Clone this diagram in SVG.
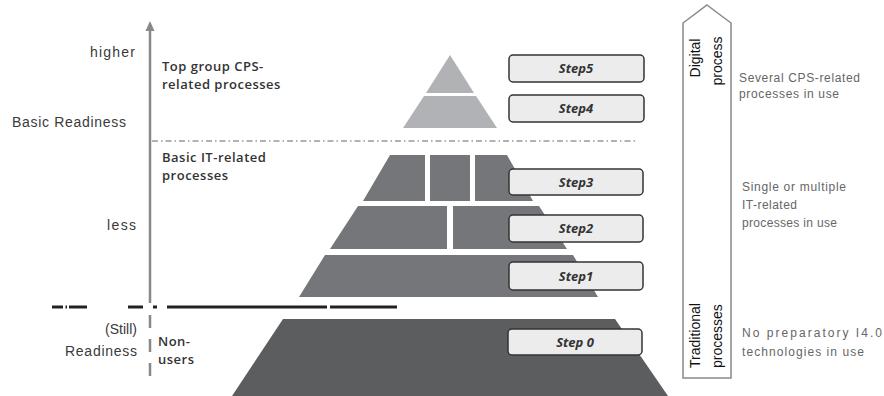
<svg xmlns="http://www.w3.org/2000/svg" width="884" height="396" viewBox="0 0 884 396">
<style>
.lbl{font-family:"Liberation Sans",Arial,sans-serif;font-size:14px;fill:#3a3a3a}
.grp{font-family:"Open Sans","Liberation Sans",sans-serif;font-size:13px;font-weight:600;fill:#333;letter-spacing:0.5px}
.step{fill:#ececec;stroke:#333;stroke-width:1.5}
.stxt{font-family:"Open Sans","Liberation Sans",sans-serif;font-size:13px;font-weight:700;font-style:italic;fill:#333;text-anchor:middle}
.rt{font-family:"Liberation Sans",Arial,sans-serif;font-size:12px;fill:#666}
.vt{font-family:"Liberation Sans",Arial,sans-serif;font-size:14px;fill:#111}
.top{fill:#b1b2b5}
.mid{fill:#757679}
.low{fill:#5c5d5f}
</style>
<rect width="884" height="396" fill="#fff"/>

<g id="axis">
<line x1="150" y1="28" x2="150" y2="303" stroke="#888" stroke-width="2.5"/>
<polygon points="150,21 145.5,31 154.5,31" fill="#888"/>
<line x1="150" y1="315" x2="150" y2="385" stroke="#888" stroke-width="2.5" stroke-dasharray="13,11"/>
</g>

<g id="separators">
<line x1="152" y1="141" x2="638" y2="141" stroke="#999" stroke-width="1.5" stroke-dasharray="6,3,1.5,3"/>
<g stroke="#222" stroke-width="3">
<line x1="52" y1="307" x2="63" y2="307"/>
<line x1="65.5" y1="307" x2="67" y2="307"/>
<line x1="69" y1="307" x2="87" y2="307"/>
<line x1="128" y1="307" x2="143" y2="307"/>
<line x1="153" y1="307" x2="157" y2="307"/>
<line x1="167" y1="307" x2="327" y2="307"/>
<line x1="330" y1="307" x2="397" y2="307"/>
</g>
</g>

<g id="labels-left">
<text class="lbl" x="135" y="57" text-anchor="end" textLength="45">higher</text>
<text class="lbl" x="12" y="127" textLength="114">Basic Readiness</text>
<text class="lbl" x="136" y="230" text-anchor="end" textLength="29">less</text>
<text class="lbl" x="137" y="334" text-anchor="end" font-size="13">(Still)</text>
<text class="lbl" x="65" y="356" textLength="72">Readiness</text>
</g>

<g id="group-labels">
<text class="grp" x="162" y="71">Top group CPS-</text>
<text class="grp" x="162" y="89">related processes</text>
<text class="grp" x="162" y="162">Basic IT-related</text>
<text class="grp" x="162" y="180">processes</text>
<text class="grp" x="158" y="346">Non-</text>
<text class="grp" x="158" y="364">users</text>
</g>

<g id="level5">
<polygon class="top" points="450,55 474,93 426,93"/>
</g>
<g id="level4">
<polygon class="top" points="424,96 476,96 497,128 403,128"/>
</g>
<g id="level3">
<polygon class="mid" points="390,155 425,155 425,201 363,201"/>
<rect class="mid" x="430" y="155" width="40" height="46"/>
<polygon class="mid" points="475,155 507,155 533,201 475,201"/>
</g>
<g id="level2">
<polygon class="mid" points="358,206 447,206 447,249 330,249"/>
<polygon class="mid" points="453,206 539,206 567,249 453,249"/>
</g>
<g id="level1">
<polygon class="mid" points="325,255 573,255 598,297 299,297"/>
</g>
<g id="level0">
<polygon class="low" points="283,319 615,319 668,396 232,396"/>
</g>

<g id="step5"><rect class="step" x="509" y="55" width="135" height="27" rx="4"/><text class="stxt" x="576" y="73">Step5</text></g>
<g id="step4"><rect class="step" x="509" y="95" width="135" height="27" rx="4"/><text class="stxt" x="576" y="113">Step4</text></g>
<g id="step3"><rect class="step" x="509" y="169" width="134" height="26" rx="4"/><text class="stxt" x="576" y="187">Step3</text></g>
<g id="step2"><rect class="step" x="509" y="215" width="134" height="27" rx="4"/><text class="stxt" x="576" y="233">Step2</text></g>
<g id="step1"><rect class="step" x="509" y="262" width="134" height="28" rx="4"/><text class="stxt" x="576" y="281">Step1</text></g>
<g id="step0"><rect class="step" x="508" y="329" width="134" height="26" rx="4"/><text class="stxt" x="575" y="347">Step 0</text></g>

<g id="process-arrow">
<polygon points="707,5 731,23 731,378 683,378 683,23" fill="#fff" stroke="#888" stroke-width="1.5"/>
<text class="vt" transform="translate(700,58) rotate(-90)" text-anchor="middle">Digital</text>
<text class="vt" transform="translate(722,61) rotate(-90)" text-anchor="middle">process</text>
<text class="vt" transform="translate(700,368) rotate(-90)">Traditional</text>
<text class="vt" transform="translate(722,368) rotate(-90)">processes</text>
</g>

<g id="labels-right">
<text class="rt" x="739" y="82" textLength="121">Several  CPS-related</text>
<text class="rt" x="739" y="98" textLength="100">processes  in use</text>
<text class="rt" x="742" y="191" textLength="104">Single or multiple</text>
<text class="rt" x="742" y="209" textLength="55">IT-related</text>
<text class="rt" x="742" y="227" textLength="95">processes in use</text>
<text class="rt" x="742" y="337" textLength="140">No   preparatory   I4.0</text>
<text class="rt" x="742" y="356" textLength="122">technologies  in use</text>
</g>
</svg>
